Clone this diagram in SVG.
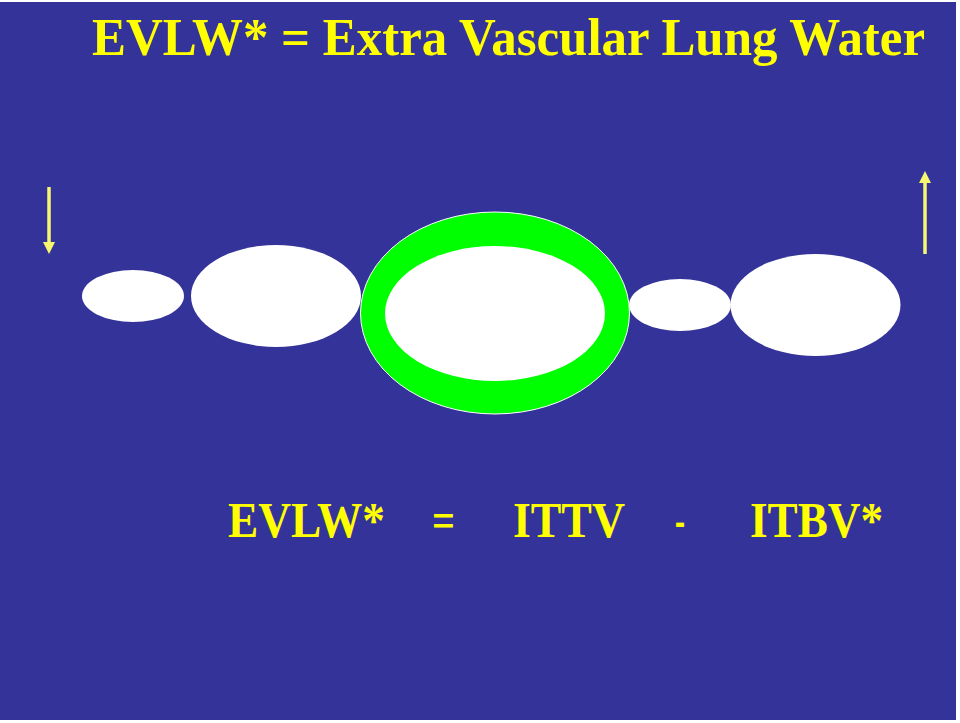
<svg xmlns="http://www.w3.org/2000/svg" width="960" height="723" viewBox="0 0 960 723">
<style>
.t{font-family:"Liberation Serif","DejaVu Serif",serif;font-weight:bold;fill:#ffff00;}
.w{fill:#ffffff;}
.arr{stroke:#f8f870;stroke-width:3.5;fill:none;}
</style>
<defs>
<marker id="ah" viewBox="0 0 12 12" refX="1" refY="6" markerWidth="12" markerHeight="12" markerUnits="userSpaceOnUse" orient="auto">
<path d="M0,0 L12,6 L0,12 Z" fill="#f8f870"/>
</marker>
</defs>
<rect x="0" y="0" width="960" height="723" fill="#ffffff"/>
<rect x="0" y="2" width="956" height="718" fill="#333399"/>
<g id="title"><text class="t" x="92" y="55" font-size="52" textLength="833" lengthAdjust="spacingAndGlyphs">EVLW* = Extra Vascular Lung Water</text></g>
<g id="n1"><ellipse class="w" cx="133" cy="296" rx="51" ry="26"/></g>
<g id="n2"><ellipse class="w" cx="276" cy="296" rx="85" ry="51"/></g>
<g id="n3"><ellipse cx="495" cy="313" rx="134.5" ry="101" fill="#00ff00" stroke="#ffffff" stroke-width="1"/><ellipse class="w" cx="495" cy="313.5" rx="110" ry="67.5"/></g>
<g id="n4"><ellipse class="w" cx="680" cy="305" rx="51" ry="26"/></g>
<g id="n5"><ellipse class="w" cx="815.5" cy="305" rx="85" ry="51"/></g>
<g id="connectors">
<line class="arr" x1="49" y1="187" x2="49" y2="243" marker-end="url(#ah)"/>
<line class="arr" x1="925" y1="254" x2="925" y2="182" marker-end="url(#ah)"/>
</g>
<g id="formula">
<text class="t" x="228" y="537" font-size="50" textLength="157" lengthAdjust="spacingAndGlyphs">EVLW*</text>
<text class="t" x="432" y="537" font-size="50" textLength="23" lengthAdjust="spacingAndGlyphs">=</text>
<text class="t" x="513" y="537" font-size="50" textLength="112" lengthAdjust="spacingAndGlyphs">ITTV</text>
<text class="t" x="675" y="537" font-size="50" textLength="10" lengthAdjust="spacingAndGlyphs">-</text>
<text class="t" x="750" y="537" font-size="50" textLength="133" lengthAdjust="spacingAndGlyphs">ITBV*</text>
</g>
</svg>
